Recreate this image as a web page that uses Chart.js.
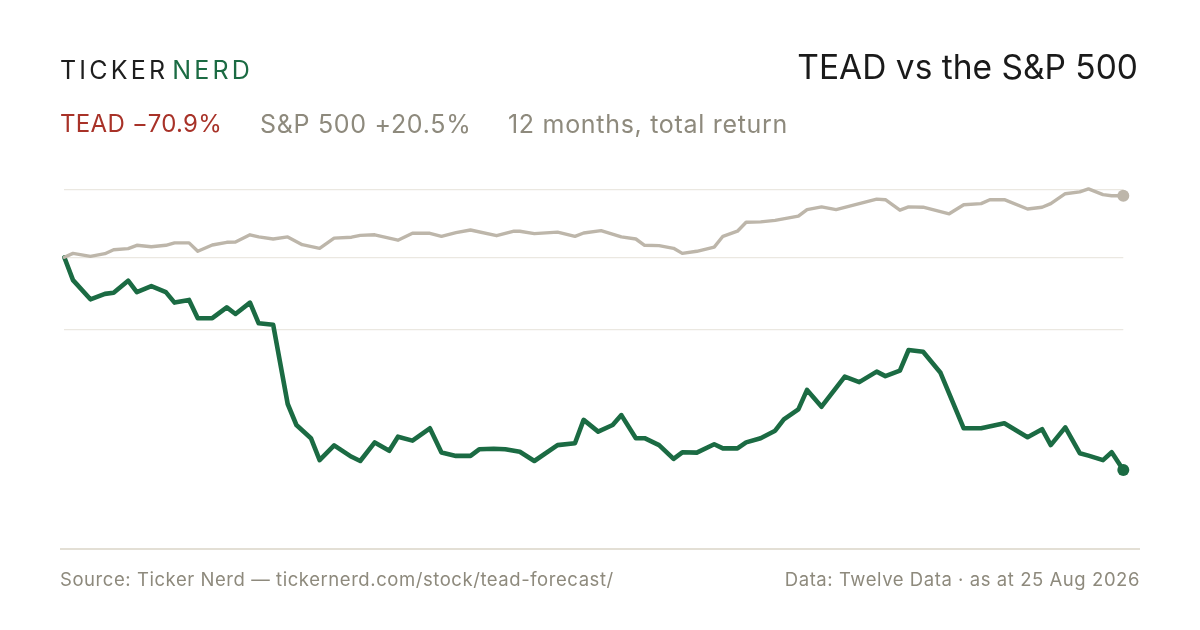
<!DOCTYPE html>
<html>
<head>
<meta charset="utf-8">
<script src="https://cdn.jsdelivr.net/npm/chart.js@4"></script>
<style>
  html, body { margin: 0; padding: 0; background: #ffffff; }
  body { width: 1200px; height: 630px; position: relative; overflow: hidden; font-family: Inter, "Noto Sans", sans-serif; }
  #chart { position: absolute; left: 0; top: 0; }
  .logo { position: absolute; left: 60px; top: 55px; font-size: 25px; letter-spacing: 3.2px; color: #1e1e1e; font-weight: 400; }
  .logo .nerd { color: #1b6b43; margin-left: 4px; }
  .title { position: absolute; right: 62px; top: 47px; font-size: 33.5px; color: #1a1a1a; letter-spacing: 0px; }
  .sub { position: absolute; top: 109px; font-size: 25px; letter-spacing: 0.7px; color: #8e8a7d; }
  .sub.tead { left: 60px; font-size: 24px; letter-spacing: 0.3px; color: #a83228; }
  .sub.sp { left: 260px; }
  .sub.period { left: 508px; }
  .rule { position: absolute; left: 60px; width: 1080px; top: 547.5px; height: 2px; background: #e3dfd5; }
  .foot { position: absolute; top: 568px; font-size: 18.5px; letter-spacing: 0.56px; color: #8e8a7d; }
  .foot.left { left: 60px; }
  .foot.right { right: 60px; }
</style>
</head>
<body>
<canvas id="chart" width="1200" height="630"></canvas>

<div class="logo">TICKER<span class="nerd">NERD</span></div>
<div class="title">TEAD vs the S&amp;P 500</div>
<div class="sub tead">TEAD −70.9%</div>
<div class="sub sp">S&amp;P 500 +20.5%</div>
<div class="sub period">12 months, total return</div>
<div class="rule"></div>
<div class="foot left">Source: Ticker Nerd — tickernerd.com/stock/tead-forecast/</div>
<div class="foot right">Data: Twelve Data · as at 25 Aug 2026</div>

<script>
/* ===================== DATA ===================== */

// calendar days since start of the 12-month window
const teadDays = [
  0, 3, 9, 14, 17, 22, 25, 30, 35, 38, 43, 46, 51, 56, 59, 64, 67, 72, 77, 80,
  85, 88, 93, 99, 102, 107, 112, 115, 120, 126, 130, 135, 140, 143, 148, 152, 157, 162, 170, 176,
  179, 184, 189, 192, 197, 200, 205, 210, 213, 218, 224, 227, 232, 235, 240, 245, 248, 253, 256, 261,
  269, 274, 280, 283, 288, 291, 296, 302, 310, 316, 324, 332, 337, 340, 345, 350, 353, 358, 361, 365,
];

// TEAD total return, %
const teadReturn = [
  0, -7.6, -14.0, -12.2, -11.8, -7.8, -11.6, -9.6, -11.6, -15.1, -14.2, -20.3, -20.3, -16.7, -18.9, -15.1, -22.0, -22.5, -48.9, -55.9,
  -60.3, -67.6, -62.7, -66.5, -67.9, -61.7, -64.5, -59.8, -61.1, -57.0, -65.1, -66.2, -66.2, -64.0, -63.8, -64.0, -64.8, -67.9, -62.6, -62.0,
  -54.2, -58.1, -55.9, -52.6, -60.3, -60.3, -62.6, -67.2, -65.0, -65.1, -62.3, -63.7, -63.7, -61.7, -60.3, -57.8, -54.0, -50.7, -44.2, -49.8,
  -39.8, -41.6, -38.1, -39.6, -37.8, -30.9, -31.5, -38.5, -57.0, -57.0, -55.3, -60.0, -57.3, -62.6, -56.7, -65.3, -66.1, -67.6, -65.0, -70.9,
];

const spDays = [
  0, 3, 9, 14, 17, 22, 25, 30, 35, 38, 43, 46, 51, 56, 59, 64, 67, 72, 77, 82,
  88, 93, 99, 102, 107, 115, 120, 126, 130, 135, 140, 149, 155, 157, 162, 170, 176, 179, 185, 192,
  197, 200, 205, 210, 213, 218, 224, 227, 232, 235, 240, 245, 253, 256, 261, 266, 280, 283, 288, 291,
  296, 305, 310, 316, 319, 324, 332, 337, 340, 345, 350, 353, 358, 361, 365,
];

// S&P 500 total return, %
const spReturn = [
  0, 1.3, 0.3, 1.2, 2.5, 2.9, 4.0, 3.5, 4.0, 4.8, 4.8, 2.0, 4.1, 5.0, 5.1, 7.5, 6.8, 6.1, 6.8, 4.2,
  3.0, 6.4, 6.7, 7.3, 7.5, 5.7, 8.0, 8.0, 7.0, 8.2, 9.1, 7.2, 8.7, 8.7, 7.9, 8.4, 7.0, 8.1, 8.9, 6.8,
  6.1, 4.0, 3.9, 3.0, 1.3, 2.0, 3.4, 7.0, 8.7, 11.7, 11.8, 12.3, 13.7, 15.9, 16.8, 15.9, 19.4, 19.2, 15.7, 16.8,
  16.7, 14.5, 17.5, 17.9, 19.2, 19.2, 16.1, 16.7, 17.9, 21.2, 21.8, 22.8, 20.9, 20.5, 20.5,
];

// horizontal guide lines, %
const gridValues = [22.7, 0, -24.2];

/* ===================== CHART ===================== */

const toPoints = (days, values) => days.map((d, i) => ({ x: d, y: values[i] }));
const lastOnly = (arr, r) => arr.map((_, i) => (i === arr.length - 1 ? r : 0));

new Chart(document.getElementById("chart"), {
  type: "line",
  data: {
    datasets: [
      {
        label: "S&P 500",
        data: toPoints(spDays, spReturn),
        borderColor: "#bdb6aa",
        backgroundColor: "#bdb6aa",
        borderWidth: 3.4,
        pointRadius: lastOnly(spDays, 6),
        pointBorderWidth: 0,
        tension: 0,
        clip: false,
      },
      {
        label: "TEAD",
        data: toPoints(teadDays, teadReturn),
        borderColor: "#1b6b43",
        backgroundColor: "#1b6b43",
        borderWidth: 4.6,
        pointRadius: lastOnly(teadDays, 6),
        pointBorderWidth: 0,
        tension: 0,
        clip: false,
      },
    ],
  },
  options: {
    responsive: false,
    animation: false,
    layout: { padding: { left: 64.3, right: 76.7, top: 167.3, bottom: 72.7 } },
    plugins: { legend: { display: false }, tooltip: { enabled: false } },
    elements: { line: { borderJoinStyle: "round", borderCapStyle: "round" } },
    scales: {
      x: { type: "linear", min: 0, max: 365, display: false },
      y: {
        min: -100,
        max: 30,
        afterBuildTicks: (axis) => {
          axis.ticks = gridValues.map((v) => ({ value: v }));
        },
        ticks: { display: false },
        border: { display: false },
        grid: { color: "#ebe8e1", lineWidth: 1.3, drawTicks: false },
      },
    },
  },
});
</script>
</body>
</html>
